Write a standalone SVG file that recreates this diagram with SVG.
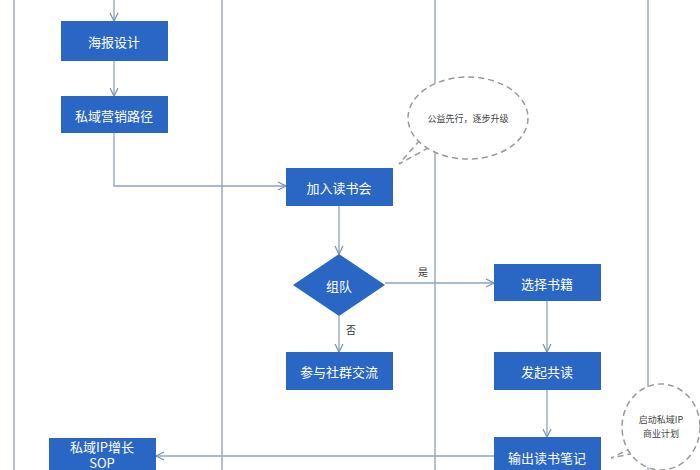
<svg xmlns="http://www.w3.org/2000/svg" width="700" height="470" viewBox="0 0 700 470">
<defs>
<marker id="a" markerWidth="10" markerHeight="10" refX="9" refY="5" orient="auto" markerUnits="userSpaceOnUse"><path d="M1,1 L9,5 L1,9" fill="none" stroke="#7a90b0" stroke-width="1.2"/></marker>
<style>
.n{fill:#2a66c4}
.t{fill:#fff;font-family:"Noto Sans CJK SC","Liberation Sans",sans-serif;font-size:13px;text-anchor:middle;dominant-baseline:central}
.c{fill:none;stroke:#8ea3c0;stroke-width:1.3;marker-end:url(#a)}
.l{fill:none;stroke:#a0aab8;stroke-width:1.5}
.co{fill:#fff;stroke:#9a9a9a;stroke-width:1.5;stroke-dasharray:6 4}
.ct{fill:#444;font-family:"Noto Sans CJK SC","Liberation Sans",sans-serif;font-size:9px;text-anchor:middle;dominant-baseline:central}
.lb{fill:#333;font-family:"Noto Sans CJK SC","Liberation Sans",sans-serif;font-size:10px;text-anchor:middle}
</style>
</defs>
<rect width="700" height="470" fill="#fff"/>
<g id="lanes"><path class="l" d="M14,0V470M222,0V470M435,0V470M648,0V470"/></g>
<g id="connectors">
<path class="c" d="M114,0V21"/>
<path class="c" d="M114,61V96"/>
<path class="c" d="M114,133V186H286"/>
<path class="c" d="M339,206V254"/>
<path class="c" d="M385,283H494"/>
<path class="c" d="M339,316V352"/>
<path class="c" d="M547,301V352"/>
<path class="c" d="M547,390V437"/>
<path class="c" d="M494,456H156"/>
<text class="lb" x="423" y="276">是</text>
<text class="lb" x="351" y="334">否</text>
</g>
<g id="n1"><rect class="n" x="61" y="21" width="107" height="40"/><text class="t" x="114" y="41">海报设计</text></g>
<g id="n2"><rect class="n" x="61" y="96" width="107" height="37"/><text class="t" x="114" y="115">私域营销路径</text></g>
<g id="n3"><rect class="n" x="286" y="168" width="107" height="38"/><text class="t" x="339" y="187">加入读书会</text></g>
<g id="n4"><polygon class="n" points="339,254 385,285 339,316 293,285"/><text class="t" x="339" y="285">组队</text></g>
<g id="n5"><rect class="n" x="494" y="264" width="107" height="37"/><text class="t" x="547" y="283">选择书籍</text></g>
<g id="n6"><rect class="n" x="286" y="352" width="107" height="38"/><text class="t" x="339" y="371">参与社群交流</text></g>
<g id="n7"><rect class="n" x="494" y="352" width="107" height="38"/><text class="t" x="547" y="371">发起共读</text></g>
<g id="n8"><rect class="n" x="494" y="437" width="107" height="40"/><text class="t" x="547" y="457">输出读书笔记</text></g>
<g id="n9"><rect class="n" x="49" y="438" width="107" height="40"/><text class="t" x="102" y="446" font-size="12">私域IP增长</text><text class="t" x="102" y="462" font-size="11">SOP</text></g>
<g id="callout1"><path class="co" d="M420,140 L399,164 L428,148"/><ellipse class="co" cx="468" cy="118" rx="60" ry="41"/><text class="ct" x="468" y="118">公益先行，逐步升级</text></g>
<g id="callout2"><path class="co" d="M632,448 L611,458 L640,452"/><ellipse class="co" cx="661" cy="427" rx="39" ry="43"/><text class="ct" x="661" y="419">启动私域IP</text><text class="ct" x="661" y="433">商业计划</text></g>
</svg>
